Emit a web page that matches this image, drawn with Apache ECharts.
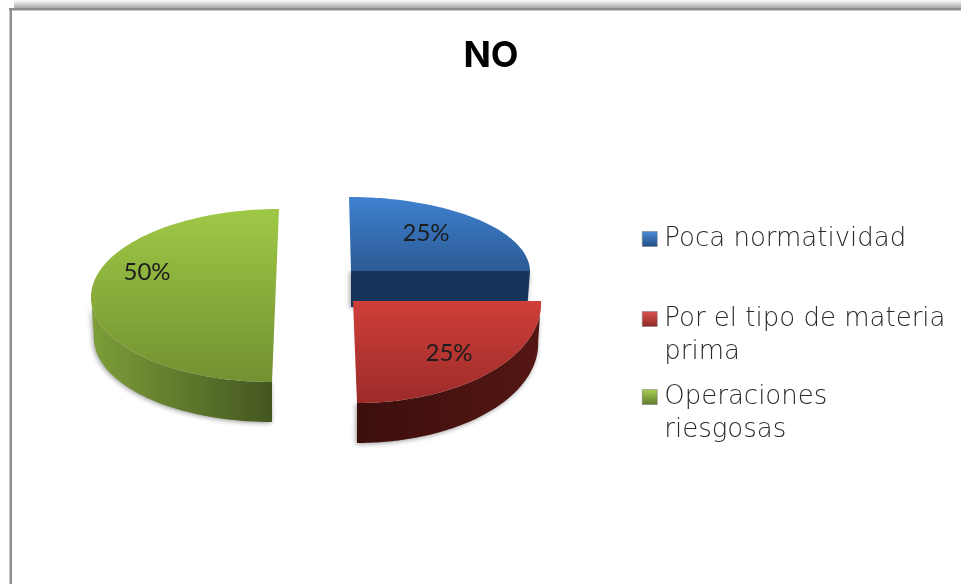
<!DOCTYPE html>
<html>
<head>
<meta charset="utf-8">
<style>html,body{margin:0;padding:0;background:#fff}#chart{width:961px;height:584px}</style>
<script src="https://cdn.jsdelivr.net/npm/echarts@6/dist/echarts.min.js"></script>
</head>
<body>
<div id="chart"></div>
<script>
// Values of the pie
const chartTitle = 'NO';
const categories = ['Poca normatividad', 'Por el tipo de materia\nprima', 'Operaciones\nriesgosas'];
const values = [25, 25, 50];

// Screen geometry of each exploded wedge
const wedges = [
  { cx: 351, cy: 271, rx: 179, ry: 74, skew: -2, depth: 36, labelX: 426, labelY: 233 },
  { cx: 353, cy: 301, rx: 188, ry: 102, skew: -4, depth: 40, labelX: 449, labelY: 353 },
  { cx: 275.5, cy: 295.5, rx: 184.5, ry: 86.5, skew: 3.5, depth: 40, labelX: 147, labelY: 272 }
];
const lin = (x0, y0, x1, y1, a, b) => ({ type: 'linear', x: x0, y: y0, x2: x1, y2: y1,
  colorStops: [{ offset: 0, color: a }, { offset: 1, color: b }] });
const topFills = [
  lin(0, 0, 0, 1, '#3f81d0', '#2b5b94'),
  lin(0, 0, 0, 1, '#cf3e39', '#9c2c29'),
  lin(0, 0, 0, 1, '#9fc846', '#739131')
];
const wallFills = [
  '#17355a',
  lin(0, 0, 1, 0, '#3c0f0d', '#541613'),
  lin(0, 0, 1, 0, '#7d9e39', '#445620')
];
const legendFills = [
  lin(0, 0, 0, 1, '#4a8bd6', '#244f85'),
  lin(0, 0, 0, 1, '#d9524c', '#8e2a27'),
  lin(0, 0, 0, 1, '#a9cf55', '#5f7a2a')
];
const legendTops = [217.5, 264.5, 342.5];

const total = values.reduce((a, b) => a + b, 0);
const starts = values.map((_, i) => values.slice(0, i).reduce((a, b) => a + b, 0));

// Sweep of a wedge in radians, clockwise from twelve o'clock
function sweep(i) {
  return [starts[i] / total * 2 * Math.PI, (starts[i] + values[i]) / total * 2 * Math.PI];
}
function rimPoint(w, a, radial) {
  const u = Math.sin(a) * radial, v = Math.cos(a) * radial;
  return [w.cx + w.rx * u + w.skew * v, w.cy - w.ry * v];
}
function lowered(w, p) {
  return [w.cx + (p[0] - w.cx) * 0.985, p[1] + w.depth];
}
function renderWedge(i) {
  const w = wedges[i], [a0, a1] = sweep(i), steps = 90, rim = [];
  for (let s = 0; s <= steps; s++) rim.push(rimPoint(w, a0 + (a1 - a0) * s / steps, 1));
  const centre = [w.cx, w.cy];

  // The wall shows the rim facing the viewer, or the straight cut when no rim faces forward
  let front = rim.filter(p => p[1] >= w.cy - 0.01);
  if (front.length < 3) front = [centre, rim[rim.length - 1]];
  const wall = front.concat(front.map(p => lowered(w, p)).reverse());

  return {
    type: 'group',
    children: [
      { type: 'polygon', shape: { points: wall },
        style: { fill: wallFills[i], shadowBlur: 5, shadowColor: 'rgba(0,0,0,0.4)', shadowOffsetX: -1, shadowOffsetY: 1 } },
      { type: 'polygon', shape: { points: [centre].concat(rim) },
        style: { fill: topFills[i] } },
      { type: 'text', x: w.labelX, y: w.labelY,
        style: { text: Math.round(values[i] / total * 100) + '%', fill: '#1c1c1c',
          font: '24px Lato', align: 'center', verticalAlign: 'middle' } }
    ]
  };
}

const chart = echarts.init(document.getElementById('chart'), null, { renderer: 'canvas' });
chart.setOption({
  animation: false,
  backgroundColor: '#ffffff',
  title: {
    text: chartTitle, left: 486, top: 33, textAlign: 'center',
    textStyle: { fontFamily: 'Inter', fontWeight: 700, fontSize: 36, color: '#000' }
  },
  graphic: [
    // Chart frame, clipped by the window on the right and at the bottom
    { type: 'rect', shape: { x: 14, y: 0, width: 947, height: 8 }, silent: true,
      style: { fill: lin(0, 0, 0, 1, '#ffffff', '#a8a8a8') } },
    { type: 'rect', shape: { x: 9, y: 8, width: 952, height: 2.5 }, silent: true, style: { fill: '#8f8f8f' } },
    { type: 'rect', shape: { x: 9.5, y: 8, width: 2.5, height: 576 }, silent: true, style: { fill: '#8f8f8f' } }
  ],
  legend: categories.map((name, i) => ({
    data: [name], orient: 'vertical', left: 637, top: legendTops[i], padding: 5,
    itemWidth: 15, itemHeight: 15, itemGap: 0, selectedMode: false,
    icon: 'rect',
    // A leading blank line keeps the swatch level with the first line of wrapped names
    formatter: n => (n.includes('\n') ? '\n' + n : n),
    itemStyle: { color: legendFills[i], borderColor: '#777', borderWidth: 0.5 },
    textStyle: {
      fontFamily: 'DejaVu Sans', fontWeight: 200, fontSize: 26, lineHeight: 33, color: '#2a2a2a',
      padding: [0, 0, 0, 2]
    }
  })),
  series: categories.map((name, i) => ({
    type: 'custom', name, coordinateSystem: 'none',
    data: [values[i]],
    z: i === 2 ? 1 : i + 2,
    itemStyle: { color: legendFills[i] },
    renderItem: () => renderWedge(i)
  }))
});
</script>
</body>
</html>
